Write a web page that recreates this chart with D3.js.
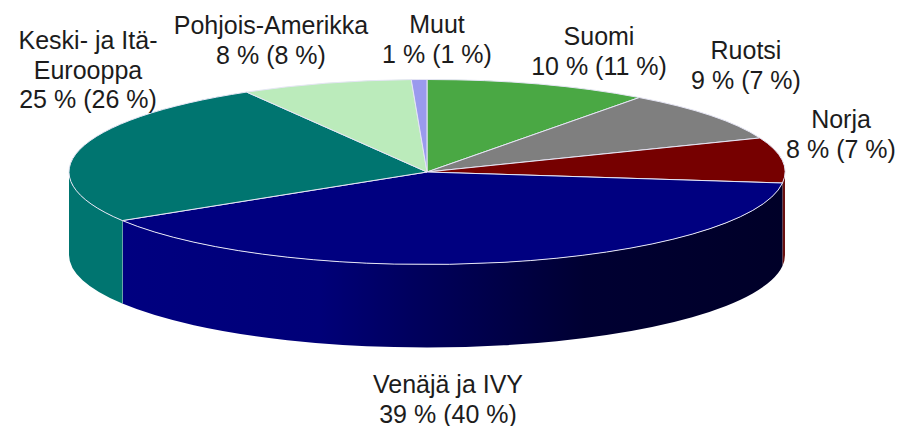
<!DOCTYPE html>
<html>
<head>
<meta charset="utf-8">
<script src="https://cdn.jsdelivr.net/npm/d3@7/dist/d3.min.js"></script>
<style>
html,body{margin:0;padding:0;background:#fff}
svg{display:block}
text{font-family:"Liberation Sans",Arial,sans-serif;font-size:25px;fill:#1c1c1c;text-anchor:middle}
</style>
</head>
<body>
<svg id="c" width="899" height="426"></svg>
<script>
const categories = ["Suomi","Ruotsi","Norja","Venäjä ja IVY","Keski- ja Itä-Eurooppa","Pohjois-Amerikka","Muut"];
const shares = [10.1,8.9,7.9,39.3,25.4,7.7,0.7];
const labelLines = [
  ["Suomi","10 % (11 %)"],
  ["Ruotsi","9 % (7 %)"],
  ["Norja","8 % (7 %)"],
  ["Venäjä ja IVY","39 % (40 %)"],
  ["Keski- ja Itä-","Eurooppa","25 % (26 %)"],
  ["Pohjois-Amerikka","8 % (8 %)"],
  ["Muut","1 % (1 %)"]
];
const topColors = ["#4aa844","#7f7f7f","#760000","#000080","#007570","#bbebbb","#9a9aee"];
const sideColors = ["#4aa844","#7f7f7f","#6a1010","url(#navy)","#007570","#bbebbb","#9a9aee"];
const labelX = [599,746,841,448,88,271,437];
const labelY = [45,59,128,393,49,34,33];
const lineGap = 29.5;

const cx = 427, cy = 172, rx = 358, ry = 92.5, depth = 83;
const svg = d3.select("#c");
const x = d3.scaleLinear().domain([-1,1]).range([cx-rx,cx+rx]);
const y = d3.scaleLinear().domain([-1,1]).range([cy-ry,cy+ry]);
const arcs = d3.pie().sort(null).value(d=>d).startAngle(0).endAngle(2*Math.PI)(shares);
const px = a => x(Math.sin(a)), py = a => y(-Math.cos(a));

const g = svg.append("defs").append("linearGradient").attr("id","navy").attr("gradientUnits","userSpaceOnUse")
  .attr("x1",x(-1)+50).attr("x2",x(1)).attr("y1",0).attr("y2",0);
[[0,"#000080"],[0.3,"#000078"],[0.45,"#00005c"],[0.7,"#000032"],[1,"#000028"]]
  .forEach(s=>g.append("stop").attr("offset",s[0]).attr("stop-color",s[1]));

// side walls: only the front half (PI/2 .. 3PI/2) can be seen
const lo = Math.PI/2, hi = 3*Math.PI/2;
const walls = svg.append("g");
arcs.forEach((d,i)=>{
  const a = Math.max(d.startAngle,lo), b = Math.min(d.endAngle,hi);
  if (b <= a) return;
  const large = b-a>Math.PI?1:0;
  const path = `M${px(a)},${py(a)}A${rx},${ry} 0 ${large} 1 ${px(b)},${py(b)}`+
    `L${px(b)},${py(b)+depth}A${rx},${ry} 0 ${large} 0 ${px(a)},${py(a)+depth}Z`;
  walls.append("path").attr("d",path).attr("fill",sideColors[i]);
  if (i === 3) {
    walls.append("line").attr("x1",px(b)).attr("x2",px(b)).attr("y1",py(b)).attr("y2",py(b)+depth)
      .attr("stroke","#a8c4cc").attr("stroke-width",1.2);
  }
});

// top face: unit arcs from d3.arc, stretched into an ellipse
const arcGen = d3.arc().innerRadius(0).outerRadius(1);
svg.append("g").attr("transform",`translate(${cx},${cy}) scale(${rx},${ry})`)
  .selectAll("path").data(arcs).join("path")
  .attr("d",arcGen)
  .attr("fill",(d,i)=>topColors[i])
  .attr("stroke","#e6e6f5")
  .attr("stroke-width",1)
  .attr("vector-effect","non-scaling-stroke");

const labels = svg.append("g");
labelLines.forEach((lines,i)=>{
  const t = labels.append("text").attr("x",labelX[i]).attr("y",labelY[i]);
  lines.forEach((s,j)=>t.append("tspan").attr("x",labelX[i]).attr("dy",j?lineGap:0).text(s));
});
</script>
</body>
</html>
